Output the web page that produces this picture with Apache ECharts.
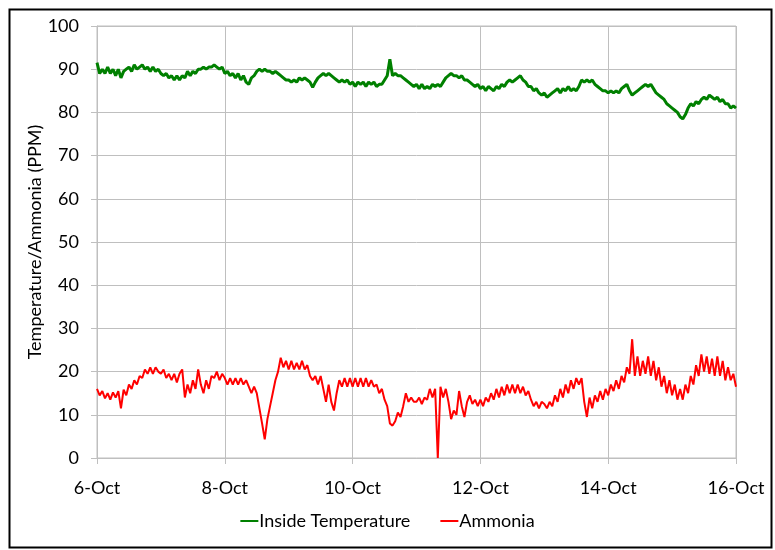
<!DOCTYPE html>
<html>
<head>
<meta charset="utf-8">
<script src="https://cdn.jsdelivr.net/npm/echarts@6/dist/echarts.min.js"></script>
<style>html,body{margin:0;padding:0;background:#fff}#c{width:775px;height:550px}</style>
</head>
<body>
<div id="c"></div>
<script>
// Hourly readings from 6-Oct 00:00 to 16-Oct 00:00
const xTickLabels = ['6-Oct','8-Oct','10-Oct','12-Oct','14-Oct','16-Oct'];
const seriesNames = ['Inside Temperature','Ammonia'];
const temperature = [
91.5,89,90,89,90.5,89,90,88.5,90,88,89.5,90,90.5,89.5,91,90,90.5,91,90,90.5,89.5,90.5,89.5,90,
89,88.5,89,88,88.5,87.5,88.5,87.5,88.5,88,89.5,88.5,89.5,89,90,90,90.5,90,90.5,90.5,91,90.5,90,90.5,
89,89.5,88.5,89,88,89,87.5,88.5,87,86.5,88,88.5,89.5,90,89.5,90,89.5,89.5,89,89.5,89,88.5,88,87.5,
87.5,87,87.5,87,88,87.5,88,87.5,87,85.8,87,88,88.5,89,88.5,89,88.5,88,87.5,87,87.5,87,87.5,86.5,
87,86,87,86.5,87,86,87,86.5,87,86,86.5,86.5,87.5,88.5,92.3,88.5,89,88.5,88.5,88,87.5,87,86.5,86,
86.5,85.5,86.5,85.5,86,85.5,86.5,86,86.5,86,87,88,88.5,89,88.5,88.5,88,88.5,87.5,87.5,87,86.5,86,86.5,
85.5,86,85,86,85.5,85,86,85.5,86.5,86,87,87.5,87,87.5,88,88.5,87.5,87,86,86,85,85.5,84.5,84,
84.5,83.5,84,84.5,85,85.5,84.5,85.5,85,86,85,85.5,85,86,87.5,87,87.5,87,87.5,86.5,86,85.5,85,85,
84.5,85,84.5,85,84.5,85.5,86,86.5,85,84,84.5,85,85.5,86,86.5,86,86.5,85.5,84.5,84,83.5,83,82,81.5,
81,80.5,80,79,78.5,79.5,81,82,81.5,82.5,82,83,83.5,83,84,83.5,83,83.5,82.5,83,82,82,81,81.5,
81
];
const ammonia = [
16,14.5,15.5,13.8,15,13.5,15.2,14,15.5,11.5,15.8,14.5,17,16,18,17,19,18.5,20.5,19.5,21,19.5,21,20,
19.5,20.5,18.5,19.5,18,19.5,17.5,19.5,20.5,14,17,15,18,16,20.5,17,15,18,16,19,18.5,20,18,19.5,
18.5,17,18.5,17,18.5,17,18.5,17,18,16.5,15,16.5,15,11.5,8,4.3,9,12,15,18,20,23.2,21,22.5,
20.5,22.5,20.5,22,20.5,22.5,20.5,21.5,19,18,19,17,19,16,13,17,13,11,15,18,16.5,18.5,16.5,18.5,
16.5,18.5,16.5,18.5,16.5,18.5,16.5,18,16.5,17,15,16,13.5,12,8,7.5,8.5,10.5,9.5,12,15,13,14,13,
13,14,12.5,14,13.5,16,14,16,0,16.5,14,16,13,9,11,10,15.5,12,9.5,13,14.5,12.5,13.5,12,
13.5,12,14,13,15,13.5,16,14,16.5,14.5,17,15,17,15,17,15,16.5,14.5,15.5,13.5,12,13,11.5,13,
12.5,11.5,13,12,14.5,13,16,14,17,15,18,16,18.5,17,18.5,13,9.5,14,11.5,14.5,13,15.5,13.5,16,
14.5,17,15.5,18,16,19,17.5,21,19.5,27.5,19,23.5,19,22.5,19.5,23.5,19,22.5,18,21,16.5,19,15,18,
14.5,17,13.5,16,13.5,17,15,19,17,21.5,19,24,20,23.5,19.5,23,19,23.5,19,22.5,18,21,18,19.5,
16.5
];

const toPairs = arr => arr.map((v, i) => [i, v]);
const font = 'Lato, "Liberation Sans", sans-serif';
const chart = echarts.init(document.getElementById('c'), null, {renderer: 'canvas'});
chart.setOption({
  animation: false,
  backgroundColor: '#fff',
  textStyle: {fontFamily: font},
  graphic: [{
    type: 'rect', left: 7, top: 7, z: 100, silent: true,
    shape: {width: 762, height: 538},
    style: {fill: 'none', stroke: '#000', lineWidth: 2}
  }],
  grid: {left: 97, right: 39, top: 26, bottom: 92, show: true, borderColor: '#bfbfbf', borderWidth: 1},
  legend: {
    bottom: 15, left: 'center', itemGap: 30, itemWidth: 18, itemHeight: 2,
    icon: 'rect',
    textStyle: {fontSize: 18, color: '#000', fontFamily: font, padding: [0,0,0,-4]},
    data: seriesNames
  },
  xAxis: {
    type: 'value', min: 0, max: 240, interval: 48,
    axisLine: {show: true, lineStyle: {color: '#bfbfbf'}},
    axisTick: {show: true, length: 6, lineStyle: {color: '#bfbfbf'}},
    splitLine: {show: true, lineStyle: {color: '#bfbfbf', width: 1}},
    axisLabel: {
      margin: 21, fontSize: 18, color: '#000', fontFamily: font,
      formatter: v => xTickLabels[Math.round(v / 48)] || ''
    }
  },
  yAxis: {
    type: 'value', min: 0, max: 100, interval: 10,
    name: 'Temperature/Ammonia (PPM)', nameLocation: 'middle', nameGap: 53,
    nameMoveOverlap: false,
    nameTextStyle: {fontSize: 18, color: '#000', fontFamily: font},
    axisLine: {show: true, lineStyle: {color: '#bfbfbf'}},
    axisTick: {show: true, length: 6, lineStyle: {color: '#bfbfbf'}},
    splitLine: {show: true, lineStyle: {color: '#bfbfbf', width: 1}},
    axisLabel: {margin: 18, fontSize: 18, color: '#000', fontFamily: font}
  },
  series: [
    {name: seriesNames[0], type: 'line', data: toPairs(temperature), showSymbol: false,
     lineStyle: {color: '#008000', width: 3}, itemStyle: {color: '#008000'}},
    {name: seriesNames[1], type: 'line', data: toPairs(ammonia), showSymbol: false,
     lineStyle: {color: '#ff0000', width: 2}, itemStyle: {color: '#ff0000'}}
  ]
});
</script>
</body>
</html>
